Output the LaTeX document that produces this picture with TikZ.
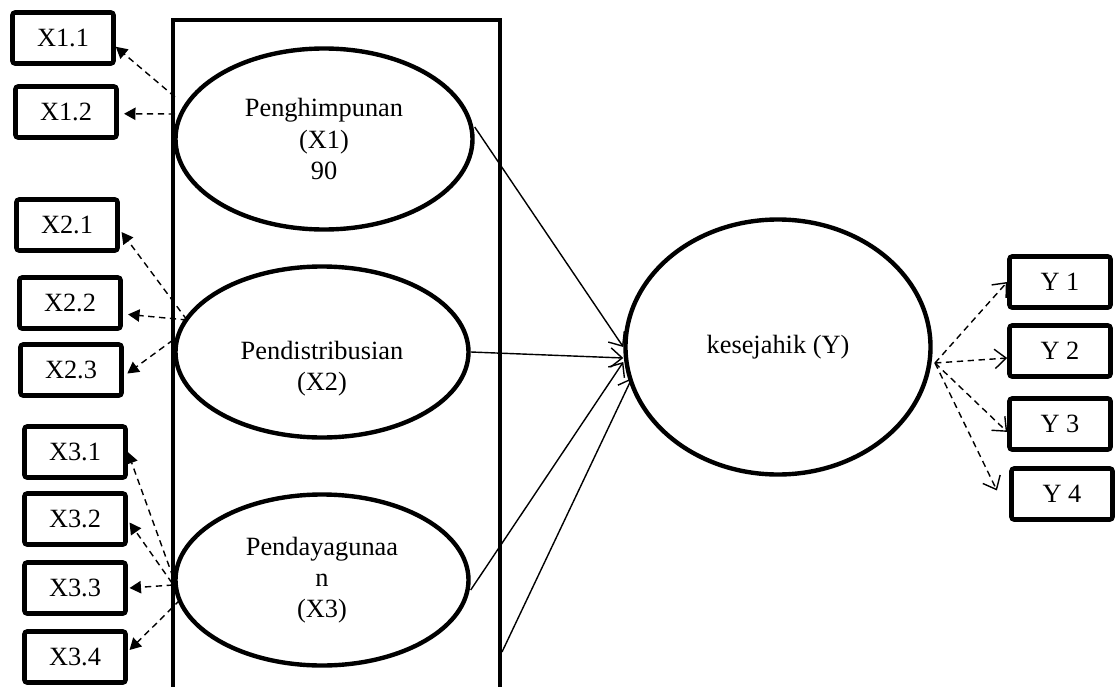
\documentclass[tikz,border=0pt]{standalone}
\usepackage{fontspec}
\setmainfont{Liberation Serif}
\usetikzlibrary{shapes.geometric, arrows.meta}

\begin{document}
\begin{tikzpicture}[font=\fontsize{15}{17.8}\selectfont,
  ind/.style={draw, line width=2.6pt, rounded corners=1.5pt, minimum width=2.02cm, minimum height=1.02cm, inner sep=0pt},
  lat/.style={draw, ellipse, line width=2.5pt, inner sep=0pt, align=center},
  load/.style={dash pattern=on 3.6pt off 2.6pt, line width=0.8pt},
  inarr/.style={load, -{Triangle[length=6.5pt, width=7pt]}},
  outarr/.style={load, -{Straight Barb[length=6.5pt, width=11pt]}},
  patharr/.style={line width=0.8pt, -{Straight Barb[length=6.5pt, width=11pt]}}]
  \useasboundingbox (0,0) rectangle (22.34,-13.74);
  % outer frame round the three constructs
  \draw[line width=2.4pt] (3.46,-14) |- (10.0,-0.4) -- (10.0,-14);
  % latent variables
  \node[lat, minimum width=5.94cm, minimum height=3.62cm] (x1) at (6.48,-2.78) {Penghimpunan\\(X1)\\90};
  \node[lat, minimum width=5.86cm, minimum height=3.42cm] (x2) at (6.44,-7.04) {};
  \node[align=center] (x2t) at (6.44,-7.38) {Pendistribusian\\(X2)};
  \node[lat, minimum width=5.86cm, minimum height=3.42cm] (x3) at (6.44,-11.6) {Pendayagunaa\\n\\(X3)};
  \node[lat, minimum width=6.1cm, minimum height=5.1cm] (yv) at (15.56,-6.94) {kesejahik (Y)};
  % indicators
  \node[ind] (x11) at (1.26,-0.76) {X1.1};
  \node[ind] (x12) at (1.32,-2.24) {X1.2};
  \node[ind] (x21) at (1.34,-4.50) {X2.1};
  \node[ind] (x22) at (1.40,-6.06) {X2.2};
  \node[ind] (x23) at (1.42,-7.40) {X2.3};
  \node[ind] (x31) at (1.50,-9.04) {X3.1};
  \node[ind] (x32) at (1.50,-10.38) {X3.2};
  \node[ind] (x33) at (1.50,-11.76) {X3.3};
  \node[ind] (x34) at (1.50,-13.14) {X3.4};
  \node[ind] (y1) at (21.20,-5.64) {Y 1};
  \node[ind] (y2) at (21.20,-7.02) {Y 2};
  \node[ind] (y3) at (21.20,-8.48) {Y 3};
  \node[ind] (y4) at (21.24,-9.88) {Y 4};
  % loading start points
  \coordinate (s11) at (3.50,-1.94);
  \coordinate (s12) at (3.50,-2.28);
  \coordinate (s2a) at (3.74,-6.40);
  \coordinate (s2b) at (3.46,-6.80);
  \coordinate (s3a) at (3.46,-11.54);
  \coordinate (s3b) at (3.44,-11.66);
  \coordinate (s3c) at (3.46,-11.70);
  \coordinate (s3d) at (3.60,-12.00);
  \coordinate (sy) at (18.70,-7.26);
  \coordinate (s4) at (10.04,-13.04);
  % loadings
  \draw[inarr] (s11) -- ([yshift=-5pt]x11.east);
  \draw[inarr] (s12) -- ([xshift=3pt, yshift=-1pt]x12.east);
  \draw[inarr] (s2a) -- ([xshift=1pt, yshift=-4pt]x21.east);
  \draw[inarr] (s2a) -- ([xshift=3pt, yshift=-6.5pt]x22.east);
  \draw[inarr] (s2b) -- ([xshift=2pt, yshift=-2pt]x23.east);
  \draw[inarr] (s3a) -- (x31.east);
  \draw[inarr] (s3b) -- ([xshift=1pt, yshift=-2pt]x32.east);
  \draw[inarr] (s3c) -- ([xshift=1pt]x33.east);
  \draw[inarr] (s3d) -- ([xshift=1pt, yshift=4pt]x34.east);
  \draw[outarr] (sy) -- (y1.west);
  \draw[outarr] (sy) -- ([yshift=-4pt]y2.west);
  \draw[outarr] (sy) -- ([yshift=-4.5pt]y3.west);
  \draw[outarr] (sy) -- ([xshift=-7pt, yshift=2pt]y4.west);
  % paths to Y
  \draw[patharr] ([yshift=0.24cm]x1.east) -- (yv.west);
  \draw[patharr] (x2.east) -- ([yshift=-0.22cm]yv.west);
  \draw[patharr] ([yshift=-0.2cm]x3.east) -- ([yshift=-0.3cm]yv.west);
  \draw[patharr] (s4) -- (12.64,-7.56);
\end{tikzpicture}
\end{document}
